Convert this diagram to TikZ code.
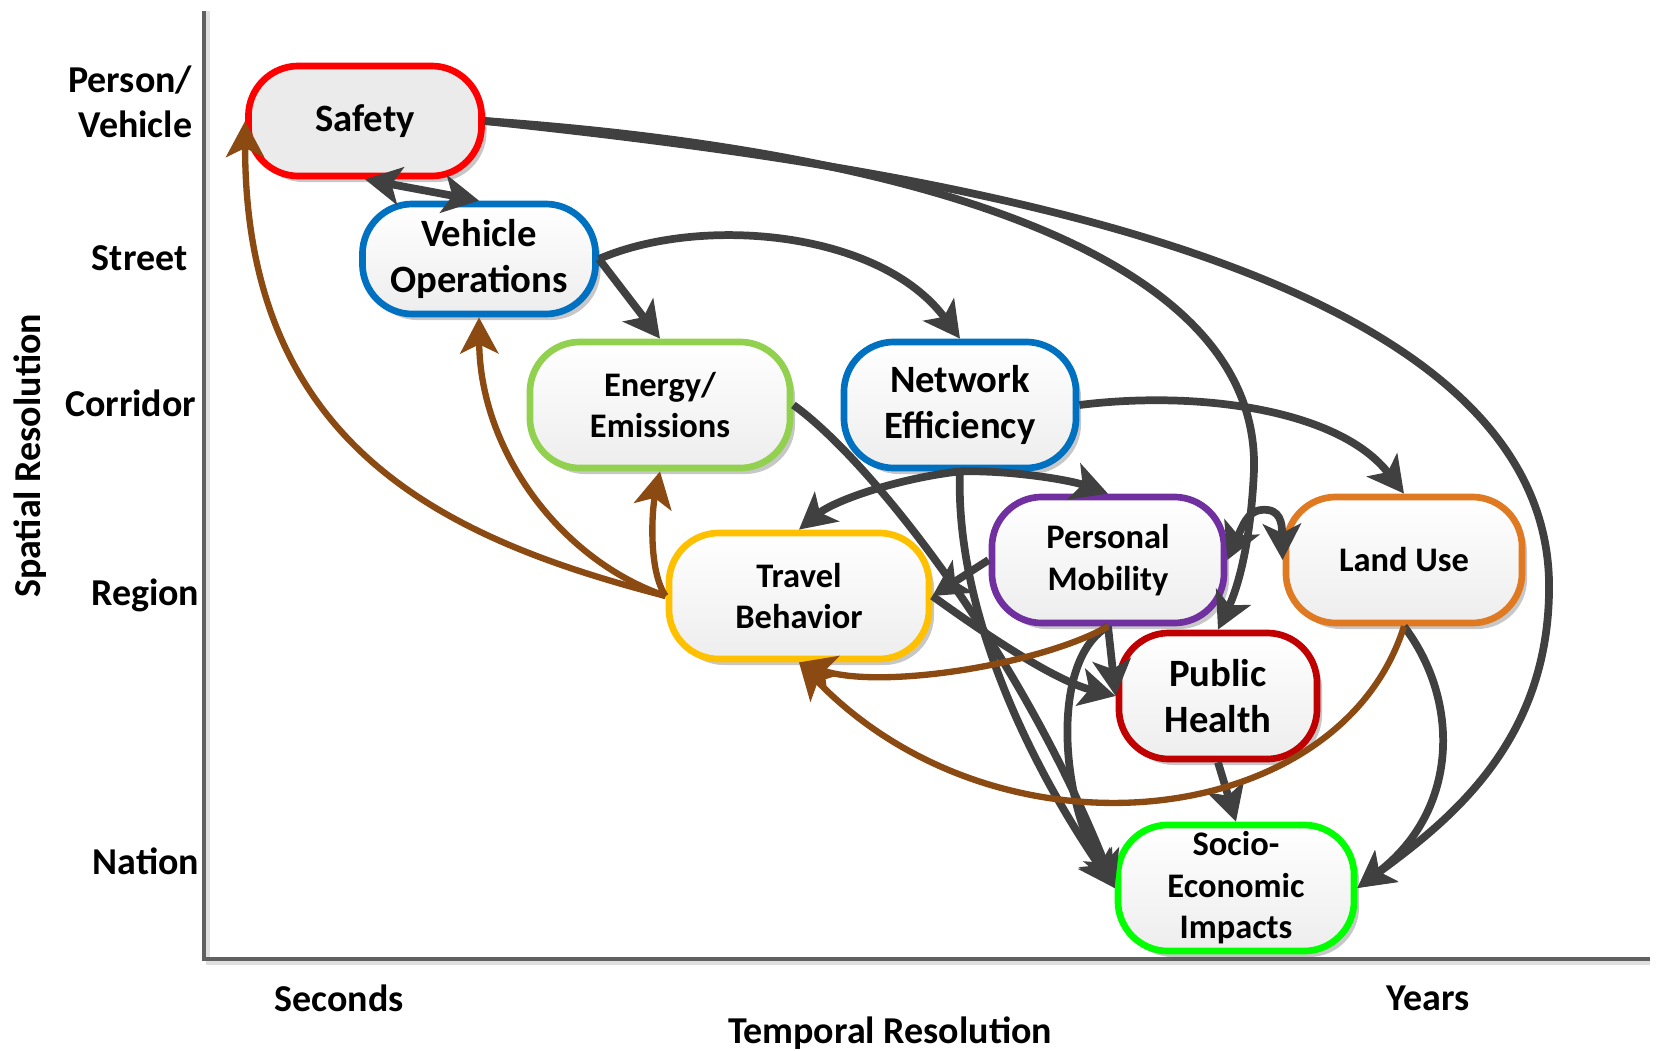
\documentclass[tikz,border=0pt]{standalone}
\usepackage{fontspec}
\setmainfont{Carlito}
\usetikzlibrary{arrows.meta,shadows}

\definecolor{cgray}{HTML}{404040}
\definecolor{cbrown}{HTML}{8A4A12}
\definecolor{csafety}{HTML}{FF0000}
\definecolor{cblue}{HTML}{0070C0}
\definecolor{cenergy}{HTML}{92D050}
\definecolor{ctravel}{HTML}{FFC000}
\definecolor{cmob}{HTML}{7030A0}
\definecolor{cland}{HTML}{E07A22}
\definecolor{chealth}{HTML}{C00000}
\definecolor{csocio}{HTML}{00FF00}

\begin{document}
\begin{tikzpicture}[x=0.01cm,y=-0.01cm,
  >={Stealth[length=0.36cm,width=0.38cm,inset=0.09cm]},
  box/.style={draw, line width=1.9pt, rounded corners=0.5cm, align=center,
    inner sep=0pt, top color=white, bottom color=gray!14,
    drop shadow={shadow xshift=0.05cm, shadow yshift=-0.06cm, opacity=0.22, fill=black}},
  big/.style={font=\bfseries\fontsize{11}{13.2}\selectfont},
  small/.style={font=\bfseries\fontsize{9.8}{11.8}\selectfont},
  axlab/.style={font=\bfseries\fontsize{10.8}{12.8}\selectfont, inner sep=0pt},
  flow/.style={draw=cgray, line width=2.2pt, ->},
  feed/.style={draw=cbrown, line width=1.8pt, ->},
]
\useasboundingbox (0,0) rectangle (1656,1051);

% axes frame
\coordinate (top) at (204,11);
\coordinate (origin) at (204,959);
\coordinate (right) at (1650,959);
\draw[gray!25, line width=1.2pt] ([xshift=0.04cm]top) -- ([xshift=0.04cm,yshift=-0.04cm]origin) -- ([yshift=-0.04cm]right);
\draw[gray!75!black, line width=1.3pt] (top) -- (origin) -- (right);

% axis labels
\node[axlab, anchor=east, align=right] (pv) at (193,102) {Person/\\Vehicle};
\node[axlab, anchor=east] (street) at (188,258) {Street};
\node[axlab, anchor=east] (corridor) at (197,403) {Corridor};
\node[axlab, anchor=east] (region) at (200,595) {Region};
\node[axlab, anchor=east] (nation) at (200,861) {Nation};
\node[axlab] (seconds) at (339,998) {Seconds};
\node[axlab] (years) at (1428,998) {Years};
\node[axlab] (temporal) at (890,1033) {Temporal Resolution};
\node[axlab, rotate=90] (spatial) at (30,456) {Spatial Resolution};

% topic boxes
\node[box, big, draw=csafety, top color=gray!16, bottom color=gray!16,
  minimum width=2.33cm, minimum height=1.10cm] (safety) at (365,121) {Safety};
\node[box, big, draw=cblue, minimum width=2.33cm, minimum height=1.10cm] (vo) at (479,259) {Vehicle\\Operations};
\node[box, small, draw=cenergy, minimum width=2.60cm, minimum height=1.26cm] (energy) at (660,405) {Energy/\\Emissions};
\node[box, big, draw=cblue, minimum width=2.32cm, minimum height=1.26cm] (ne) at (960,405) {Network\\Efficiency};
\node[box, small, draw=ctravel, minimum width=2.60cm, minimum height=1.26cm] (tb) at (799,596) {Travel\\Behavior};
\node[box, small, draw=cmob, minimum width=2.32cm, minimum height=1.26cm] (pm) at (1108,560) {Personal\\Mobility};
\node[box, small, draw=cland, minimum width=2.36cm, minimum height=1.26cm] (lu) at (1404,560) {Land Use};
\node[box, big, draw=chealth, minimum width=1.98cm, minimum height=1.26cm] (ph) at (1218,696) {Public\\Health};
\node[box, small, draw=csocio, minimum width=2.36cm, minimum height=1.26cm] (socio) at (1236,888) {Socio-\\Economic\\Impacts};

% grey influences
\draw[flow, <->] (safety.south) -- (vo.north);
\draw[flow] (safety.east) .. controls (900,165) and (1540,255) .. (1549,580)
  .. controls (1552,740) and (1450,820) .. (socio.east);
\draw[flow] (safety.east) .. controls (900,150) and (1260,250) .. (1254,470)
  .. controls (1250,560) and (1232,600) .. (ph.north);
\draw[flow] (vo.east) -- (energy.north);
\draw[flow] (vo.east) .. controls (700,215) and (880,230) .. (ne.north);
\draw[flow] (energy.east) .. controls (870,460) and (1020,650) .. (socio.west);
\draw[flow] (ne.south) .. controls (955,600) and (1020,750) .. (socio.west);
\draw[flow] (ne.south) .. controls (900,478) and (835,500) .. (tb.north);
\draw[flow] (ne.south) .. controls (1010,470) and (1070,480) .. (pm.north);
\draw[flow] (ne.east) .. controls (1200,390) and (1340,410) .. (lu.north);
\draw[flow, <->] (pm.east) .. controls (1245,520) and (1250,508) .. (1268,510)
  .. controls (1283,512) and (1282,530) .. (lu.west);
\draw[flow] (pm.west) -- (tb.east);
\draw[flow] (tb.east) .. controls (1000,645) and (1060,682) .. (ph.west);
\draw[flow] (pm.south) -- (ph.west);
\draw[flow] (pm.south) .. controls (1050,660) and (1060,800) .. (socio.west);
\draw[flow] (ph.south) -- (socio.north);
\draw[flow] (lu.south) .. controls (1460,700) and (1460,810) .. (socio.east);

% brown feedbacks
\draw[feed] (tb.west) .. controls (450,540) and (245,450) .. (safety.west);
\draw[feed] (tb.west) .. controls (560,560) and (480,450) .. (vo.south);
\draw[feed] (tb.west) .. controls (648,570) and (652,510) .. (energy.south);
\draw[feed] (pm.south) .. controls (1040,665) and (880,690) .. (tb.south);
\draw[feed] (lu.south) .. controls (1340,830) and (1000,870) .. (tb.south);
\end{tikzpicture}
\end{document}
